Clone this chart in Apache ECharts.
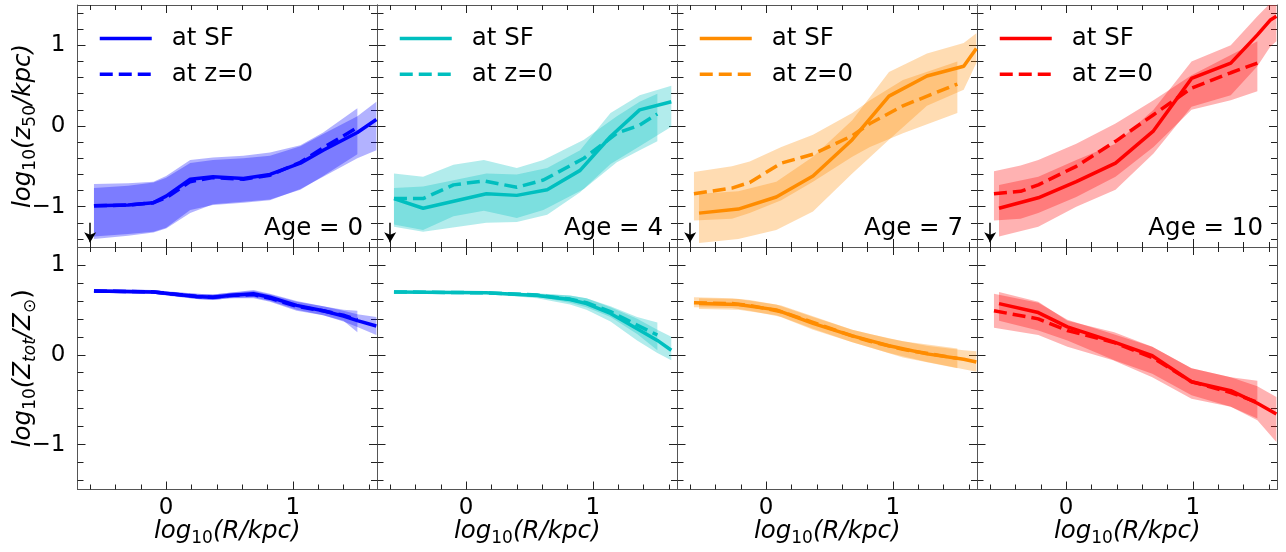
<!DOCTYPE html>
<html><head><meta charset="utf-8">
<script src="https://cdn.jsdelivr.net/npm/echarts@6/dist/echarts.min.js"></script>
<style>html,body{margin:0;padding:0;background:#fff}#c{width:1286px;height:552px}</style>
</head><body><div id="c"></div>
<script>
// ---------------- data: rows are [log10 R, median, lower, upper] ----------------
const ages = [0, 4, 7, 10];

// top row: log10(z50/kpc)
const age0_z50_sf = [[-0.57,-0.99,-1.37,-0.77],[-0.30,-0.98,-1.34,-0.74],[-0.10,-0.95,-1.31,-0.70],[0.00,-0.87,-1.26,-0.64],[0.19,-0.66,-1.04,-0.46],[0.37,-0.63,-0.98,-0.42],[0.61,-0.65,-0.95,-0.40],[0.82,-0.60,-0.92,-0.37],[1.06,-0.46,-0.78,-0.25],[1.24,-0.30,-0.63,-0.10],[1.51,-0.08,-0.40,0.12],[1.66,0.08,-0.30,0.30]];
const age0_z50_z0 = [[-0.57,-0.99,-1.40,-0.72],[-0.30,-0.98,-1.36,-0.71],[-0.10,-0.95,-1.32,-0.69],[0.00,-0.89,-1.27,-0.62],[0.19,-0.69,-1.08,-0.42],[0.37,-0.64,-0.97,-0.39],[0.61,-0.66,-0.94,-0.37],[0.82,-0.61,-0.91,-0.33],[1.06,-0.45,-0.79,-0.24],[1.24,-0.27,-0.62,-0.08],[1.51,-0.02,-0.35,0.22]];
const age4_z50_sf = [[-0.57,-0.90,-1.25,-0.77],[-0.34,-1.02,-1.31,-0.75],[0.16,-0.84,-1.20,-0.59],[0.40,-0.86,-1.19,-0.60],[0.64,-0.79,-1.10,-0.52],[0.90,-0.55,-0.82,-0.30],[1.14,-0.13,-0.47,0.16],[1.37,0.20,-0.25,0.38],[1.62,0.30,-0.01,0.50]];
const age4_z50_z0 = [[-0.57,-0.90,-1.22,-0.59],[-0.34,-0.90,-1.29,-0.63],[-0.10,-0.73,-1.12,-0.48],[0.14,-0.68,-1.05,-0.42],[0.40,-0.76,-1.14,-0.52],[0.61,-0.67,-1.04,-0.42],[0.93,-0.40,-0.78,-0.17],[1.19,-0.09,-0.45,0.12],[1.37,0.01,-0.30,0.30],[1.51,0.15,-0.19,0.40]];
const age7_z50_sf = [[-0.53,-1.08,-1.45,-0.84],[-0.22,-1.03,-1.40,-0.81],[0.08,-0.88,-1.29,-0.69],[0.37,-0.62,-1.06,-0.38],[0.68,-0.17,-0.59,0.07],[0.97,0.37,-0.17,0.67],[1.27,0.62,0.25,0.90],[1.56,0.74,0.45,1.03],[1.66,0.96,0.78,1.15]];
const age7_z50_z0 = [[-0.57,-0.84,-1.17,-0.57],[-0.27,-0.77,-1.15,-0.50],[-0.13,-0.70,-1.08,-0.44],[0.12,-0.46,-0.92,-0.26],[0.37,-0.35,-0.69,-0.11],[0.68,-0.12,-0.38,0.16],[0.82,0.03,-0.26,0.32],[1.08,0.25,-0.09,0.57],[1.51,0.52,0.16,0.80]];
const age10_z50_sf = [[-0.53,-1.02,-1.37,-0.73],[-0.22,-0.89,-1.25,-0.63],[0.08,-0.69,-1.00,-0.42],[0.39,-0.46,-0.79,-0.22],[0.69,-0.06,-0.34,0.20],[0.99,0.59,0.24,0.80],[1.30,0.78,0.38,1.00],[1.51,1.13,0.74,1.36],[1.61,1.31,0.98,1.52],[1.66,1.36,1.05,1.58]];
const age10_z50_z0 = [[-0.57,-0.84,-1.17,-0.56],[-0.36,-0.81,-1.15,-0.49],[-0.22,-0.73,-1.08,-0.42],[0.08,-0.50,-0.88,-0.22],[0.39,-0.19,-0.63,0.03],[0.69,0.14,-0.26,0.32],[0.99,0.47,0.20,0.63],[1.30,0.66,0.32,0.88],[1.51,0.78,0.43,1.05]];

// bottom row: log10(Ztot/Zsun)
const age0_z_sf = [[-0.57,0.71,0.69,0.73],[-0.10,0.70,0.68,0.72],[0.03,0.68,0.655,0.705],[0.24,0.65,0.62,0.68],[0.37,0.64,0.61,0.67],[0.50,0.66,0.63,0.69],[0.69,0.68,0.64,0.72],[0.82,0.64,0.60,0.68],[1.03,0.55,0.50,0.60],[1.24,0.49,0.44,0.54],[1.40,0.43,0.37,0.49],[1.51,0.38,0.31,0.45],[1.66,0.32,0.22,0.42]];
const age0_z_z0 = [[-0.57,0.71,0.69,0.73],[-0.10,0.70,0.68,0.72],[0.03,0.68,0.66,0.70],[0.24,0.65,0.62,0.68],[0.37,0.64,0.61,0.67],[0.50,0.66,0.63,0.69],[0.69,0.67,0.63,0.71],[0.82,0.63,0.59,0.67],[1.03,0.54,0.49,0.59],[1.24,0.49,0.44,0.54],[1.40,0.44,0.38,0.50],[1.51,0.39,0.25,0.49]];
const age4_z_sf = [[-0.57,0.70,0.69,0.71],[0.16,0.69,0.68,0.70],[0.56,0.66,0.63,0.68],[0.82,0.615,0.56,0.66],[0.95,0.57,0.50,0.63],[1.14,0.46,0.37,0.53],[1.35,0.29,0.16,0.40],[1.51,0.16,0.02,0.28],[1.62,0.05,-0.06,0.20]];
const age4_z_z0 = [[-0.57,0.70,0.69,0.71],[0.16,0.69,0.68,0.70],[0.56,0.665,0.645,0.685],[0.82,0.62,0.58,0.66],[0.95,0.58,0.53,0.63],[1.14,0.48,0.42,0.54],[1.35,0.33,0.23,0.42],[1.51,0.22,0.05,0.36]];
const age7_z_sf = [[-0.53,0.57,0.51,0.63],[-0.22,0.56,0.50,0.62],[0.08,0.50,0.44,0.56],[0.37,0.35,0.28,0.42],[0.68,0.21,0.14,0.28],[0.97,0.10,0.02,0.18],[1.27,0.01,-0.08,0.10],[1.56,-0.05,-0.16,0.05],[1.66,-0.08,-0.19,0.04]];
const age7_z_z0 = [[-0.57,0.58,0.53,0.64],[-0.27,0.57,0.52,0.63],[-0.13,0.55,0.49,0.61],[0.12,0.48,0.42,0.55],[0.37,0.36,0.29,0.43],[0.68,0.21,0.14,0.28],[0.82,0.15,0.08,0.23],[1.08,0.06,-0.03,0.15],[1.51,-0.04,-0.15,0.07]];
const age10_z_sf = [[-0.53,0.57,0.38,0.70],[-0.22,0.47,0.27,0.59],[0.01,0.31,0.16,0.38],[0.38,0.14,-0.06,0.25],[0.68,-0.01,-0.21,0.09],[0.99,-0.30,-0.45,-0.15],[1.30,-0.40,-0.58,-0.25],[1.51,-0.54,-0.73,-0.35],[1.66,-0.66,-0.97,-0.47]];
const age10_z_z0 = [[-0.57,0.49,0.30,0.68],[-0.22,0.40,0.22,0.58],[0.01,0.27,0.09,0.39],[0.37,0.14,-0.06,0.23],[0.68,-0.03,-0.25,0.09],[0.99,-0.30,-0.49,-0.15],[1.30,-0.42,-0.58,-0.25],[1.51,-0.53,-0.71,-0.29]];

// axes / ticks
const xRange = [-0.7, 1.665];
const yRangeTop = [-1.5, 1.5];
const yRangeBot = [-1.5, 1.2];
const xMajor = [0, 1];
const xMinor = [-0.6, -0.4, -0.2, 0.2, 0.4, 0.6, 0.8, 1.2, 1.4, 1.6];
const yMajor = [-1, 0, 1];
const yMinorTop = [-1.4, -1.2, -0.8, -0.6, -0.4, -0.2, 0.2, 0.4, 0.6, 0.8, 1.2, 1.4];
const yMinorBot = [-1.4, -1.2, -0.8, -0.6, -0.4, -0.2, 0.2, 0.4, 0.6, 0.8];
const arrowX = -0.6;
const arrowY = [-1.2, -1.44];

// ---------------- styling ----------------
const FONT = 'DejaVu Sans';
const FS = 24.5;
const FS_TICK = 23;
const FS_SUB = 17;
const LINE_COLORS = ['#0000ff', '#00bfbf', '#ff8c00', '#ff0000'];
const BAND_COLORS = ['rgba(0,0,255,0.3)', 'rgba(0,191,191,0.3)', 'rgba(255,140,0,0.3)', 'rgba(255,0,0,0.3)'];
const AXIS_COLOR = '#555';
const TICK_COLOR = '#222';
const LW = 3.5;
const DASH = [13, 6];

const topSF = [age0_z50_sf, age4_z50_sf, age7_z50_sf, age10_z50_sf];
const topZ0 = [age0_z50_z0, age4_z50_z0, age7_z50_z0, age10_z50_z0];
const botSF = [age0_z_sf, age4_z_sf, age7_z_sf, age10_z_sf];
const botZ0 = [age0_z_z0, age4_z_z0, age7_z_z0, age10_z_z0];

const richName = {
  i: {fontSize: FS, fontStyle: 'italic', fontFamily: FONT, color: '#000', lineHeight: 32, verticalAlign: 'middle'},
  s: {fontSize: FS_SUB, fontFamily: FONT, color: '#000', lineHeight: 17, verticalAlign: 'bottom'},
  si: {fontSize: FS_SUB, fontStyle: 'italic', fontFamily: FONT, color: '#000', lineHeight: 17, verticalAlign: 'bottom'},
  u: {fontSize: FS, fontFamily: FONT, color: '#000', lineHeight: 32, verticalAlign: 'middle'}
};

const grids = [], xAxes = [], yAxes = [], series = [], legends = [], titles = [];

function fmtNum(v) { return v < 0 ? '\u2212' + Math.abs(v) : String(v); }

function xAxisDef(g, pos, ticks, len, showLine, showLabel, withName) {
  const a = {
    gridIndex: g, type: 'value', min: xRange[0], max: xRange[1], position: pos,
    axisLine: {show: showLine, onZero: false, lineStyle: {color: AXIS_COLOR, width: 1}},
    axisTick: {show: true, inside: true, length: len, customValues: ticks, lineStyle: {color: TICK_COLOR, width: 1}},
    axisLabel: {show: showLabel, customValues: xMajor, fontSize: FS_TICK, fontFamily: FONT, color: '#000', margin: 7, formatter: fmtNum},
    splitLine: {show: false}, minorTick: {show: false}
  };
  if (withName) {
    a.name = '{i|log}{s|10}{i|(R/kpc)}';
    a.nameLocation = 'middle';
    a.nameGap = 26;
    a.nameMoveOverlap = false;
    a.nameTextStyle = {rich: richName};
  }
  return a;
}
function yAxisDef(g, pos, range, ticks, len, showLine, showLabel, name) {
  const a = {
    gridIndex: g, type: 'value', min: range[0], max: range[1], position: pos,
    axisLine: {show: showLine, onZero: false, lineStyle: {color: AXIS_COLOR, width: 1}},
    axisTick: {show: true, inside: true, length: len, customValues: ticks, lineStyle: {color: TICK_COLOR, width: 1}},
    axisLabel: {show: showLabel, customValues: yMajor, fontSize: FS_TICK, fontFamily: FONT, color: '#000', margin: 12, formatter: fmtNum},
    splitLine: {show: false}, minorTick: {show: false}
  };
  if (name) {
    a.name = name;
    a.nameLocation = 'middle';
    a.nameRotate = 90;
    a.nameGap = 38;
    a.nameMoveOverlap = false;
    a.nameTextStyle = {rich: richName};
  }
  return a;
}

function bandSeries(rows, color, g) {
  return {
    type: 'custom', xAxisIndex: 4 * g, yAxisIndex: 4 * g, silent: true, z: 1, clip: true,
    data: rows.map(r => [r[0], r[2], r[3]]),
    encode: {x: 0, y: [1, 2]},
    renderItem: function (params, api) {
      if (params.dataIndex !== 0) return null;
      const upper = rows.map(r => api.coord([r[0], r[3]]));
      const lower = rows.map(r => api.coord([r[0], r[2]])).reverse();
      const cs = params.coordSys;
      return {
        type: 'polygon', shape: {points: upper.concat(lower)},
        style: {fill: color, stroke: null},
        clipPath: {type: 'rect', shape: {x: cs.x, y: cs.y, width: cs.width, height: cs.height}}
      };
    }
  };
}
function lineSeries(name, rows, color, g, dashed) {
  return {
    type: 'line', name: name, xAxisIndex: 4 * g, yAxisIndex: 4 * g, silent: true, z: 3,
    data: rows.map(r => [r[0], r[1]]),
    symbol: 'none', showSymbol: false, clip: true,
    lineStyle: {color: color, width: LW, type: dashed ? DASH : 'solid'},
    itemStyle: {color: color}
  };
}

for (let r = 0; r < 2; r++) {
  for (let c = 0; c < 4; c++) {
    const g = r * 4 + c;
    grids.push({left: 77.5 + 300 * c, width: 299.5, top: r === 0 ? 5 : 247, height: r === 0 ? 242 : 242.5, containLabel: false});
    const bottomRow = r === 1;
    xAxes.push(xAxisDef(g, 'bottom', xMajor, 8, true, bottomRow, bottomRow));
    xAxes.push(xAxisDef(g, 'bottom', xMinor, 5, false, false, false));
    xAxes.push(xAxisDef(g, 'top', xMajor, 8, true, false, false));
    xAxes.push(xAxisDef(g, 'top', xMinor, 5, false, false, false));
    const yr = r === 0 ? yRangeTop : yRangeBot;
    const ym = r === 0 ? yMinorTop : yMinorBot;
    let yname = null;
    if (c === 0) {
      yname = r === 0 ? '{i|log}{s|10}{i|(z}{s|50}{i|/kpc)}' : '{i|log}{s|10}{i|(Z}{si|tot}{i|/Z}{s|\u2299}{u|)}';
    }
    yAxes.push(yAxisDef(g, 'left', yr, yMajor, 8, true, c === 0, yname));
    yAxes.push(yAxisDef(g, 'left', yr, ym, 6, false, false, null));
    yAxes.push(yAxisDef(g, 'right', yr, yMajor, 8, true, false, null));
    yAxes.push(yAxisDef(g, 'right', yr, ym, 6, false, false, null));

    const sfRows = r === 0 ? topSF[c] : botSF[c];
    const z0Rows = r === 0 ? topZ0[c] : botZ0[c];
    series.push(bandSeries(z0Rows, BAND_COLORS[c], g));
    series.push(bandSeries(sfRows, BAND_COLORS[c], g));
    const sf = lineSeries((r === 0 ? 'sf' : 'sfb') + c, sfRows, LINE_COLORS[c], g, false);
    const z0 = lineSeries((r === 0 ? 'z0' : 'z0b') + c, z0Rows, LINE_COLORS[c], g, true);
    if (r === 0) {
      sf.markLine = {
        silent: true, animation: false, symbol: ['none', 'arrow'], symbolSize: [9, 10],
        label: {show: false},
        lineStyle: {color: '#000', width: 1.5, type: 'solid'},
        data: [[{coord: [arrowX, arrowY[0]]}, {coord: [arrowX, arrowY[1]]}]]
      };
    }
    series.push(z0);
    series.push(sf);

    if (r === 0) {
      legends.push({
        left: 98 + 300 * c, top: 26, orient: 'vertical', padding: 0,
        itemWidth: 52, itemHeight: 14, itemGap: 10.7, selectedMode: false,
        data: [{name: 'sf' + c}, {name: 'z0' + c}],
        itemStyle: {opacity: 0, color: 'rgba(0,0,0,0)', borderWidth: 0},
        lineStyle: {width: LW},
        formatter: function (n) { return '{t|' + (n.indexOf('sf') === 0 ? 'at SF' : 'at z=0') + '}'; },
        textStyle: {rich: {t: {fontSize: FS, fontFamily: FONT, color: '#000', lineHeight: 26, padding: [0, 0, 0, 15]}}}
      });
      titles.push({
        text: 'Age = ' + ages[c], right: 923 - 300 * c, top: 216, padding: 0,
        textStyle: {fontSize: FS, fontFamily: FONT, fontWeight: 'normal', color: '#000'}
      });
    }
  }
}

const chart = echarts.init(document.getElementById('c'), null, {renderer: 'canvas', width: 1286, height: 552});
chart.setOption({
  backgroundColor: '#fff',
  animation: false,
  textStyle: {fontFamily: FONT},
  title: titles,
  legend: legends,
  grid: grids,
  xAxis: xAxes,
  yAxis: yAxes,
  series: series
});
</script></body></html>
